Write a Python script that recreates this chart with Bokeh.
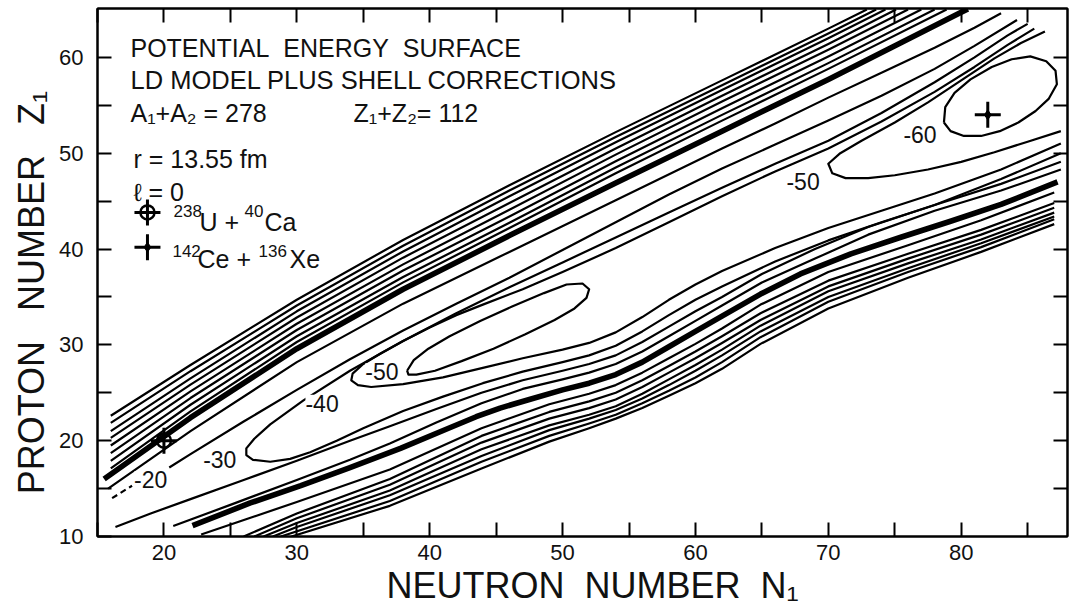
from bokeh.plotting import figure
from bokeh.models import FixedTicker, LinearAxis, Range1d, Label
from bokeh.embed import file_html
from bokeh.resources import INLINE
from bokeh.core.properties import value

# ---------------- data: contour lines (N1, Z1) ----------------
# steep wall on the neutron-poor side, thick line first
wall_up_0 = [(15.5, 16.0), (22, 22.4), (30, 29.6), (38, 35.8), (46, 41.4), (54, 46.9), (62, 52.3), (70, 57.7), (80, 64.7), (80.5, 65.05)]
wall_up_1 = [(16, 17.1), (22, 23.05), (30, 30.3), (38, 36.52), (46, 42.2), (54, 47.9), (62, 53.4), (70, 58.8), (78.9, 65.0)]
wall_up_2 = [(16, 17.9), (22, 23.75), (30, 30.9), (38, 37.08), (46, 42.75), (54, 48.5), (62, 54.0), (70, 59.4), (78.0, 65.0)]
wall_up_3 = [(16, 18.7), (22, 24.45), (30, 31.55), (38, 37.75), (46, 43.4), (54, 49.15), (62, 54.7), (70, 60.1), (77.0, 65.0)]
wall_up_4 = [(16, 19.5), (22, 25.15), (30, 32.2), (38, 38.4), (46, 44.1), (54, 49.85), (62, 55.4), (70, 60.8), (76.0, 65.0)]
wall_up_5 = [(16, 20.3), (22, 25.85), (30, 32.85), (38, 39.1), (46, 44.8), (54, 50.5), (62, 56.0), (70, 61.4), (75.1, 65.0)]
wall_up_6 = [(16, 21.0), (22, 26.5), (30, 33.5), (38, 39.75), (46, 45.5), (54, 51.15), (62, 56.6), (70, 62.0), (74.3, 65.0)]
wall_up_7 = [(16, 21.85), (22, 27.25), (30, 34.1), (38, 40.35), (46, 46.1), (54, 51.7), (62, 57.1), (70, 62.5), (73.6, 65.0)]
wall_up_8 = [(16, 22.6), (22, 27.9), (30, 34.7), (38, 40.95), (46, 46.65), (54, 52.2), (62, 57.6), (70, 63.0), (72.9, 65.0)]

# steep wall on the neutron-rich side, thick line first
wall_lo_0 = [(22.15, 11.14), (26.5, 13.5), (30.3, 15.3), (34.0, 17.2), (37.8, 19.2), (41.6, 21.4), (43.5, 22.5), (45.3, 23.4),
             (47.5, 24.3), (50, 25.3), (52, 26.0), (54, 26.9), (56, 28.2), (58, 29.8), (60, 31.4), (62, 33.0), (64.9, 35.3),
             (67.9, 37.4), (71.7, 39.5), (75.4, 41.2), (79.2, 42.9), (83.0, 44.65), (87.25, 47.0)]
wall_lo_1 = [(22.8, 10.2), (30, 13.6), (37, 17.0), (43.9, 21.3), (49, 23.8), (52, 24.9), (54, 25.8), (56, 27.1), (58, 28.6),
             (60, 30.1), (62, 31.7), (64.9, 34.2), (70, 37.6), (76, 40.4), (81.5, 43.0), (87, 45.9)]
wall_lo_2 = [(26.0, 10.0), (30, 12.4), (37, 16.0), (43.9, 20.5), (49, 23.0), (52, 24.1), (54, 25.0), (56, 26.3), (58, 27.8),
             (60, 29.3), (62, 30.9), (64.9, 33.3), (70, 36.7), (76, 39.5), (81.5, 42.0), (87, 44.8)]
wall_lo_3 = [(26.8, 10.0), (30, 11.9), (37, 15.4), (43.9, 19.8), (49, 22.3), (52, 23.4), (54, 24.3), (56, 25.6), (58, 27.1),
             (60, 28.6), (62, 30.2), (64.9, 32.6), (70, 36.1), (76, 39.0), (81.5, 41.5), (87, 44.3)]
wall_lo_4 = [(27.5, 10.0), (30, 11.4), (37, 14.8), (43.9, 19.1), (49, 21.6), (52, 22.7), (54, 23.6), (56, 24.9), (58, 26.4),
             (60, 27.9), (62, 29.5), (64.9, 32.0), (70, 35.6), (76, 38.5), (81.5, 41.0), (87, 43.8)]
wall_lo_5 = [(28.2, 10.0), (30, 11.0), (37, 14.3), (43.9, 18.4), (49, 21.1), (52, 22.3), (54, 23.2), (56, 24.4), (58, 25.8),
             (60, 27.3), (62, 28.9), (64.9, 31.4), (70, 35.0), (76, 38.0), (81.5, 40.6), (87, 43.4)]
wall_lo_6 = [(28.8, 10.0), (37, 13.7), (43.9, 17.8), (49, 20.5), (52, 21.8), (54, 22.7), (56, 23.9), (58, 25.2),
             (60, 26.6), (62, 28.2), (64.9, 30.8), (70, 34.5), (76, 37.6), (81.5, 40.2), (87, 43.1)]
wall_lo_7 = [(29.6, 10.0), (37, 13.2), (43.9, 17.1), (49, 19.9), (52, 21.3), (54, 22.3), (56, 23.4), (58, 24.7),
             (60, 26.0), (62, 27.5), (64.9, 30.1), (70, 33.8), (76, 37.0), (81.5, 39.7), (87, 42.6)]

# valley contours
level_m10_up = [(15.8, 15.0), (22, 21.0), (30, 28.2), (38, 34.3), (46, 39.7), (54, 45.1), (62, 50.5), (66, 53.1), (70, 55.8),
                (74, 58.4), (78, 61.0), (81, 63.1), (83.0, 64.6)]
level_m20_up_dash = [(16.1, 14.0), (17.6, 15.3)]
level_m20_up = [(20.4, 17.2), (22, 18.6), (26, 22.0), (30, 25.3), (34, 28.5), (38, 31.5), (42, 34.3), (46, 37.0), (50, 39.9), (54, 42.8),
                (58, 45.7), (62, 48.4), (66, 50.9), (70, 53.4), (74, 56.0), (78, 58.8), (81, 61.2), (84.2, 63.9)]
level_m30 = [(85.0, 63.5), (83.5, 62.3), (81, 60.0), (78, 57.4), (74, 54.2), (70, 51.3), (66, 48.9), (62, 46.4), (58, 43.8), (54, 41.2), (50, 38.6),
             (46, 36.0), (42, 33.3), (38, 30.4), (34, 27.3), (30.5, 24.2), (28, 21.7), (26.8, 20.2), (26.2, 19.2), (26.2, 18.5),
             (26.7, 18.0), (28, 17.8), (29.5, 18.1), (31, 18.8), (33, 20.0), (35, 21.3), (38, 23.1), (41, 24.6), (44, 26.0),
             (47, 27.2), (50, 28.2), (52, 28.9), (54, 29.9), (56, 31.4), (58, 33.1), (60, 34.7), (62, 36.1), (66, 38.7),
             (70, 40.9), (74, 42.8), (78, 44.6), (83, 47.3), (87.5, 50.0)]
level_m40 = [(85.5, 63.0), (83.5, 61.3), (81, 59.0), (78, 56.4), (74, 53.3), (70, 50.5), (66, 48.1), (62, 45.5), (58, 42.8), (54, 40.1), (50, 37.6),
             (47, 35.8), (44, 34.2), (42, 33.1), (40, 31.8), (38, 30.4), (36.3, 29.1), (35.0, 28.0), (34.2, 27.0), (34.1, 26.3),
             (34.6, 25.8), (35.6, 25.6), (38, 25.9), (41, 26.6), (44, 27.6), (47, 28.6), (50, 29.5), (52, 30.2), (54, 31.3),
             (56, 32.9), (58, 34.7), (60, 36.3), (62, 37.7), (66, 40.1), (70, 42.2), (74, 44.0), (78, 45.8), (83, 48.3), (87.5, 51.0)]
level_m50_left = [(38.3, 27.3), (38.8, 28.4), (39.9, 29.6), (41.5, 30.9), (43.8, 32.5), (46.2, 34.0), (48.6, 35.4), (50.3, 36.3),
                  (51.5, 36.4), (52.0, 35.8), (51.8, 34.9), (50.9, 33.8), (49.4, 32.6), (47.2, 31.1), (44.8, 29.6),
                  (42.4, 28.3), (40.4, 27.3), (39.0, 26.9), (38.4, 26.9), (38.3, 27.3)]
level_m50_right = [(86.3, 62.7), (84.5, 61.5), (82.5, 59.9), (80, 57.6), (77.5, 55.3), (75, 53.2), (72.5, 51.3), (70.9, 50.0),
                   (70.0, 48.9), (70.3, 47.9), (71.3, 47.4), (73, 47.4), (75, 47.7), (77.5, 48.3), (80, 49.1), (82.5, 50.1),
                   (85, 51.2), (87.5, 52.3)]
level_m60 = [(78.7, 53.2), (79.2, 52.3), (80.2, 51.8), (81.5, 51.8), (82.9, 52.3), (84.3, 53.2), (85.6, 54.4), (86.6, 55.7),
             (87.2, 57.2), (87.1, 58.6), (86.4, 59.6), (85.2, 60.1), (83.8, 59.8), (82.3, 59.0), (80.7, 57.7), (79.5, 56.3),
             (78.8, 54.8), (78.7, 53.2)]
level_m10_lo = [(20.7, 11.1), (25, 13.3), (30, 15.9), (34, 18.0), (37, 19.7), (40.5, 21.9), (43.9, 23.9), (47, 25.4), (50, 26.4),
                (52, 27.1), (54, 28.0), (56, 29.3), (58, 30.9), (60, 32.5), (62, 34.1), (65, 36.5), (69, 39.0), (73, 41.5),
                (78, 44.0), (83, 46.1), (87.5, 48.3)]
level_m20_lo = [(16.35, 11.0), (19, 12.4), (22, 13.9), (26, 15.9), (30, 17.9), (34, 20.0), (37, 21.5), (40.5, 23.3), (43.9, 25.0),
                (47, 26.3), (50, 27.3), (52, 28.0), (54, 28.9), (56, 30.3), (58, 31.9), (60, 33.5), (62, 35.0), (65, 37.4),
                (69, 40.0), (73, 42.3), (78, 44.6), (83, 46.8), (87.5, 49.1)]

thick_lines = [wall_up_0, wall_lo_0]
thin_lines = [wall_up_1, wall_up_2, wall_up_3, wall_up_4, wall_up_5, wall_up_6, wall_up_7, wall_up_8,
              wall_lo_1, wall_lo_2, wall_lo_3, wall_lo_4, wall_lo_5, wall_lo_6, wall_lo_7,
              level_m10_up, level_m20_up, level_m30, level_m40, level_m50_left, level_m50_right, level_m60,
              level_m10_lo, level_m20_lo]
dashed_lines = [level_m20_up_dash]

# contour level labels: (N1, Z1, text)
level_labels = [(19.0, 15.9, "-20"), (24.2, 18.0, "-30"), (31.9, 23.9, "-40"), (36.4, 27.2, "-50"),
                (68.1, 47.0, "-50"), (76.9, 51.9, "-60")]

# reaction entrance channels (N1, Z1)
ca_u_point = (20, 20)
xe_ce_point = (82, 54)

x_major = [20, 30, 40, 50, 60, 70, 80]
x_minor = [15, 25, 35, 45, 55, 65, 75, 85]
x_all = [15, 20, 25, 30, 35, 40, 45, 50, 55, 60, 65, 70, 75, 80, 85]
y_major = [10, 20, 30, 40, 50, 60]
y_minor = [15, 25, 35, 45, 55]
y_all = [15, 20, 25, 30, 35, 40, 45, 50, 55, 60]

FONT = "Liberation Sans"
INK = "#111111"
NB = "\u00a0"

p = figure(width=1076, height=608, x_range=Range1d(15, 88), y_range=Range1d(10, 65.1),
           output_backend="svg", toolbar_location=None,
           min_border_left=97, min_border_right=9, min_border_top=8, min_border_bottom=69)
p.grid.visible = False
p.outline_line_color = "black"
p.outline_line_width = 2
p.background_fill_color = "white"
p.border_fill_color = "white"


def style_axis(ax, major, minor):
    ax.ticker = FixedTicker(ticks=major, minor_ticks=minor)
    for kind in ("major", "minor"):
        setattr(ax, kind + "_tick_in", 14)
        setattr(ax, kind + "_tick_out", 0)
        setattr(ax, kind + "_tick_line_width", 2)
        setattr(ax, kind + "_tick_line_color", "black")
    ax.axis_line_width = 2
    ax.axis_line_color = "black"
    ax.major_label_text_font = FONT
    ax.major_label_text_font_size = "22px"
    ax.major_label_text_color = INK


xb = p.xaxis[0]
yl = p.yaxis[0]
style_axis(xb, x_major, x_minor)
style_axis(yl, y_major, y_minor)
xb.major_label_standoff = 8
yl.major_label_standoff = 14
xb.axis_label = NB * 2 + "NEUTRON" + NB * 2 + "NUMBER" + NB * 2 + "N\u2081"
yl.axis_label = "PROTON" + NB * 3 + "NUMBER" + NB * 3 + "Z\u2081" + NB * 4
for ax, size in ((xb, "36px"), (yl, "36px")):
    ax.axis_label_text_font = FONT
    ax.axis_label_text_font_size = size
    ax.axis_label_text_font_style = "normal"
    ax.axis_label_text_color = INK
xb.axis_label_standoff = 2
yl.axis_label_standoff = 4

# tick marks only on the top and right edges
xt = LinearAxis()
style_axis(xt, [], x_all)
p.add_layout(xt, "above")
yr = LinearAxis()
style_axis(yr, [], y_all)
p.add_layout(yr, "right")


def xs_ys(line):
    return [pt[0] for pt in line], [pt[1] for pt in line]


for ln in thin_lines:
    xs, ys = xs_ys(ln)
    p.line(xs, ys, line_color="black", line_width=2.2, line_join="round")
for ln in thick_lines:
    xs, ys = xs_ys(ln)
    p.line(xs, ys, line_color="black", line_width=5.6, line_join="round")
for ln in dashed_lines:
    xs, ys = xs_ys(ln)
    p.line(xs, ys, line_color="black", line_width=2.2, line_dash="6 4")

for lx, ly, lt in level_labels:
    p.add_layout(Label(x=lx, y=ly, text=lt, text_align="center", text_baseline="middle",
                       text_font=FONT, text_font_size="23px", text_color=INK,
                       background_fill_color="white", background_fill_alpha=1.0))

# reaction markers on the surface
p.scatter([ca_u_point[0]], [ca_u_point[1]], marker="cross", size=26, line_width=3, line_color="black")
p.scatter([ca_u_point[0]], [ca_u_point[1]], marker="circle", size=14, line_width=2.5, line_color="black", fill_color=None)
p.scatter([xe_ce_point[0]], [xe_ce_point[1]], marker="cross", size=26, line_width=3, line_color="black")
p.scatter([xe_ce_point[0]], [xe_ce_point[1]], marker="diamond", size=10, line_color="black", fill_color="black")

# key symbols
p.scatter([18.76], [43.82], marker="cross", size=26, line_width=3, line_color="black")
p.scatter([18.76], [43.82], marker="circle", size=14, line_width=2.5, line_color="black", fill_color=None)
p.scatter([18.76], [40.19], marker="cross", size=26, line_width=3, line_color="black")
p.scatter([18.76], [40.19], marker="diamond", size=10, line_color="black", fill_color="black")

# annotation block: (N1, Z1, text, size)
notes = [
    (17.48, 60.93, "POTENTIAL" + NB * 2 + "ENERGY" + NB * 2 + "SURFACE", "25px"),
    (17.48, 57.61, "LD MODEL PLUS SHELL CORRECTIONS", "25.5px"),
    (17.48, 54.19, "A\u2081+A\u2082 = 278", "25px"),
    (34.27, 54.19, "Z\u2081+Z\u2082= 112", "25px"),
    (17.71, 49.42, "r = 13.55 fm", "25px"),
    (17.71, 46.0, "\u2113 = 0", "25px"),
    (20.72, 43.92, "238", "17px"),
    (22.68, 42.78, "U +", "25px"),
    (26.06, 43.92, "40", "17px"),
    (27.57, 42.78, "Ca", "25px"),
    (20.64, 39.77, "142", "17px"),
    (22.53, 38.94, "Ce +", "25px"),
    (27.12, 39.77, "136", "17px"),
    (29.45, 38.94, "Xe", "25px"),
]
for nx, ny, nt, ns in notes:
    p.text([nx], [ny], text=[nt], text_font=value(FONT), text_font_size=ns, text_color=INK,
           text_baseline="alphabetic", text_align="left")

open("out.html", "w").write(file_html(p, INLINE))
